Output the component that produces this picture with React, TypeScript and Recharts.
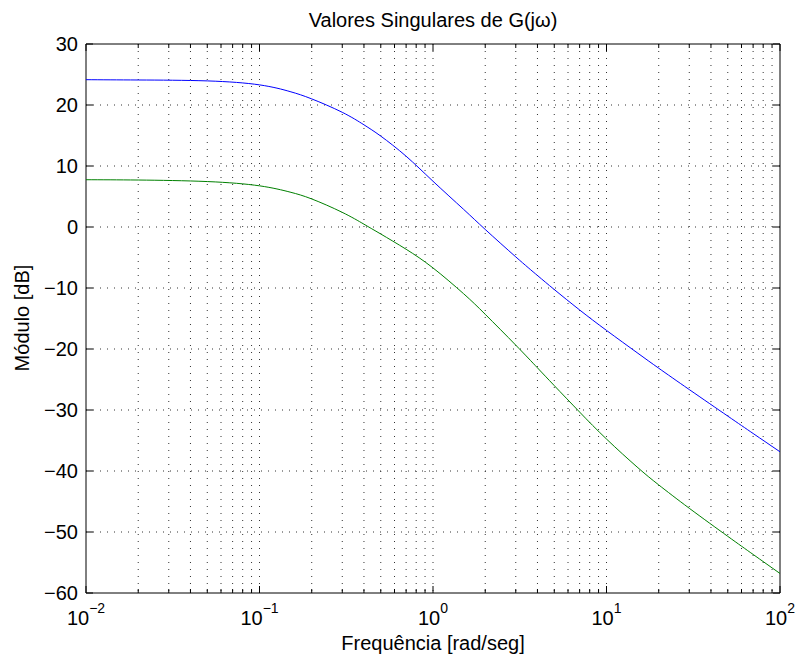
import React from "react";
import { LineChart, Line, XAxis, YAxis, ReferenceLine, ReferenceArea } from "recharts";

// frequency grid [rad/s] and the two singular values [dB]
const freq = [0.01, 0.02, 0.05, 0.1, 0.15, 0.2, 0.3, 0.4, 0.5, 0.7, 1, 1.5, 2, 3, 4, 5, 7, 10, 15, 20, 30, 50, 70, 100];
const sigmaMax = [24.15, 24.1, 23.95, 23.3, 22.2, 21.0, 18.8, 16.75, 14.9, 11.6, 7.5, 2.9, -0.4, -4.9, -7.95, -10.25, -13.6, -16.95, -20.6, -23.15, -26.65, -31.0, -33.85, -36.85];
const sigmaMin = [7.75, 7.7, 7.45, 6.75, 5.72, 4.6, 2.4, 0.46, -1.15, -3.65, -6.71, -10.93, -14.31, -19.37, -23.09, -26.0, -30.34, -34.76, -39.34, -42.28, -46.11, -50.71, -53.68, -56.8];

const decades = [0.01, 0.1, 1, 10, 100];
const exponents = ["\u22122", "\u22121", "0", "1", "2"];
const yTicks = [-60, -50, -40, -30, -20, -10, 0, 10, 20, 30];

const title = "Valores Singulares de G(j\u03c9)";
const xTitle = "Frequência [rad/seg]";
const yTitle = "Módulo [dB]";

const FONT = '"Liberation Sans", Arial, Helvetica, sans-serif';

const data = freq.map((w, i) => ({ w, s1: sigmaMax[i], s2: sigmaMin[i] }));

// log minor grid: 2..9 in each decade, plus the decade lines themselves
const xGrid: { v: number; major: boolean }[] = [];
decades.slice(0, -1).forEach((d) => {
  for (let k = 1; k <= 9; k++) xGrid.push({ v: d * k, major: k === 1 });
});
xGrid.push({ v: 100, major: true });

const XTick = (props: any) => {
  const { x, y, payload } = props;
  const i = decades.indexOf(payload.value);
  return (
    <text x={x} y={y + 32} textAnchor="middle" fontFamily={FONT} fontSize={20} fill="#000">
      <tspan>10</tspan>
      <tspan dy={-12} fontSize={14}>{exponents[i]}</tspan>
    </text>
  );
};

const vGridShape = (major: boolean, edge: boolean) => (p: any) => {
  const x = p.x1;
  const top = Math.min(p.y1, p.y2);
  const bot = Math.max(p.y1, p.y2);
  const len = major ? 7 : 4;
  return (
    <g>
      {!edge && <line x1={x} x2={x} y1={top} y2={bot} stroke="#333" strokeWidth={1} strokeDasharray="1 6" />}
      <line x1={x} x2={x} y1={bot} y2={bot - len} stroke="#000" strokeWidth={1} />
      <line x1={x} x2={x} y1={top} y2={top + len} stroke="#000" strokeWidth={1} />
    </g>
  );
};

const hGridShape = (edge: boolean) => (p: any) => {
  const y = p.y1;
  const left = Math.min(p.x1, p.x2);
  const right = Math.max(p.x1, p.x2);
  return (
    <g>
      {!edge && <line x1={left} x2={right} y1={y} y2={y} stroke="#333" strokeWidth={1} strokeDasharray="1 6" />}
      <line x1={left} x2={left + 7} y1={y} y2={y} stroke="#000" strokeWidth={1} />
      <line x1={right} x2={right - 7} y1={y} y2={y} stroke="#000" strokeWidth={1} />
    </g>
  );
};

export default function App() {
  return (
    <div style={{ position: "absolute", left: 0, top: 0, width: 798, height: 660, background: "#fff", fontFamily: FONT }}>
      <LineChart width={798} height={660} data={data} margin={{ top: 44, right: 18, bottom: 0, left: 0 }}>
        <XAxis
          dataKey="w"
          type="number"
          scale="log"
          domain={[0.01, 100]}
          ticks={decades}
          tick={<XTick />}
          tickLine={false}
          axisLine={false}
          tickSize={0}
          tickMargin={0}
          height={67}
          allowDataOverflow
        />
        <YAxis
          type="number"
          domain={[-60, 30]}
          ticks={yTicks}
          tickFormatter={(v: number) => (v < 0 ? `\u2212${Math.abs(v)}` : `${v}`)}
          tick={{ fill: "#000", fontSize: 20, fontFamily: FONT }}
          tickLine={false}
          axisLine={false}
          tickSize={0}
          tickMargin={8}
          width={86}
          allowDataOverflow
        />
        {xGrid.map((g) => (
          <ReferenceLine
            key={`x${g.v}`}
            x={g.v}
            shape={vGridShape(g.major, g.v === 0.01 || g.v === 100)}
          />
        ))}
        {yTicks.map((v) => (
          <ReferenceLine key={`y${v}`} y={v} shape={hGridShape(v === -60 || v === 30)} />
        ))}
        <ReferenceArea x1={0.01} x2={100} y1={-60} y2={30} fill="none" stroke="#000" strokeWidth={1} fillOpacity={0} />
        <Line type="natural" dataKey="s1" stroke="#0000ff" strokeWidth={1} dot={false} isAnimationActive={false} />
        <Line type="natural" dataKey="s2" stroke="#008000" strokeWidth={1} dot={false} isAnimationActive={false} />
      </LineChart>
      <div style={{ position: "absolute", left: 233, width: 400, top: 8, textAlign: "center", fontSize: 20, lineHeight: "24px", color: "#000" }}>
        {title}
      </div>
      <div style={{ position: "absolute", left: 233, width: 400, top: 631, textAlign: "center", fontSize: 20, lineHeight: "24px", color: "#000" }}>
        {xTitle}
      </div>
      <div
        style={{
          position: "absolute",
          left: 22 - 100,
          top: 318 - 12,
          width: 200,
          textAlign: "center",
          fontSize: 20,
          lineHeight: "24px",
          color: "#000",
          transform: "rotate(-90deg)",
        }}
      >
        {yTitle}
      </div>
    </div>
  );
}
